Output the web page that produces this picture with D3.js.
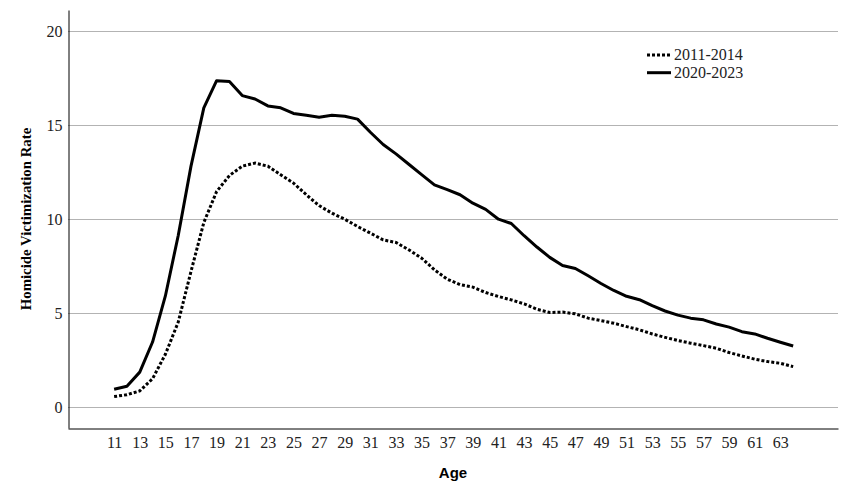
<!DOCTYPE html>
<html><head><meta charset="utf-8">
<script src="https://cdn.jsdelivr.net/npm/d3@7"></script>
<style>body{margin:0;background:#fff}svg{display:block}</style>
</head><body>
<svg id="chart" width="853" height="503"></svg>
<script>
const ages = d3.range(11, 65);
const series1Label = "2011-2014";
const series2Label = "2020-2023";
const rate2011 = [0.55,0.65,0.85,1.5,2.8,4.5,7.2,9.8,11.45,12.3,12.8,12.96,12.8,12.34,11.9,11.28,10.7,10.3,9.98,9.59,9.24,8.88,8.74,8.35,7.91,7.29,6.79,6.5,6.37,6.08,5.87,5.69,5.48,5.19,5.02,5.04,4.95,4.72,4.59,4.45,4.27,4.1,3.88,3.7,3.53,3.39,3.26,3.12,2.89,2.71,2.54,2.41,2.32,2.14];
const rate2020 = [0.94,1.1,1.85,3.45,5.9,9.1,12.8,15.9,17.34,17.3,16.55,16.37,16.0,15.9,15.6,15.5,15.4,15.5,15.45,15.3,14.6,13.95,13.45,12.9,12.35,11.8,11.55,11.28,10.83,10.5,9.98,9.75,9.1,8.5,7.95,7.52,7.36,6.97,6.56,6.19,5.88,5.7,5.38,5.1,4.88,4.72,4.63,4.41,4.24,4.0,3.88,3.65,3.44,3.24];
const yTicks = [0,5,10,15,20];
const xTickLabels = d3.range(11, 64, 2);

const svg = d3.select("#chart");
const mLeft = 68, mRight = 838, mTop = 10, mBottom = 428;
const serif = "Liberation Serif, Times New Roman, serif";

const x = d3.scaleLinear().domain([7.4, 67.5]).range([mLeft, mRight]);
const y = d3.scaleLinear().domain([-1.12, 21.1]).range([mBottom, mTop]);

// gridlines
svg.append("g").selectAll("line").data(yTicks).join("line")
  .attr("x1", mLeft).attr("x2", mRight)
  .attr("y1", d => Math.round(y(d)) + 0.5).attr("y2", d => Math.round(y(d)) + 0.5)
  .attr("stroke", "#b3b3b3").attr("stroke-width", 1);

// y axis
const yAxis = svg.append("g").attr("transform", `translate(${mLeft + 0.5},0)`)
  .call(d3.axisLeft(y).tickValues(yTicks).tickSize(0).tickPadding(6).tickSizeOuter(0));
yAxis.select(".domain").attr("stroke", "#000");
yAxis.selectAll("text").attr("font-family", serif).attr("font-size", 16).attr("fill", "#222").attr("dy", "0.36em");

// x axis
const xAxis = svg.append("g").attr("transform", `translate(0,${mBottom + 0.5})`)
  .call(d3.axisBottom(x).tickValues(xTickLabels).tickFormat(d3.format("d")).tickSize(0).tickPadding(8).tickSizeOuter(0));
xAxis.select(".domain").attr("stroke", "#000");
xAxis.selectAll("text").attr("font-family", serif).attr("font-size", 16).attr("fill", "#222");

// lines
const line = d3.line().x((d, i) => x(ages[i])).y(d => y(d));
svg.append("path").datum(rate2011).attr("d", line)
  .attr("fill", "none").attr("stroke", "#000").attr("stroke-width", 3)
  .attr("stroke-dasharray", "3,2");
svg.append("path").datum(rate2020).attr("d", line)
  .attr("fill", "none").attr("stroke", "#000").attr("stroke-width", 3)
  .attr("stroke-linejoin", "round");

// axis titles
svg.append("text").attr("transform", `translate(31,${(mTop + mBottom) / 2}) rotate(-90)`)
  .attr("text-anchor", "middle").attr("font-family", serif)
  .attr("font-weight", "bold").attr("font-size", 14.8).text("Homicide Victimization Rate");
svg.append("text").attr("x", (mLeft + mRight) / 2).attr("y", 478)
  .attr("text-anchor", "middle").attr("font-family", "Liberation Sans, Arial, sans-serif")
  .attr("font-weight", "bold").attr("font-size", 15).text("Age");

// legend
const legend = svg.append("g");
const legItems = [{label: series1Label, dash: "3,2"}, {label: series2Label, dash: null}];
legItems.forEach((it, i) => {
  const ly = 55 + i * 17.7;
  legend.append("line").attr("x1", 647).attr("x2", 671).attr("y1", ly).attr("y2", ly)
    .attr("stroke", "#000").attr("stroke-width", 3).attr("stroke-dasharray", it.dash);
  legend.append("text").attr("x", 674).attr("y", ly + 5)
    .attr("font-family", serif).attr("font-size", 16)
    .attr("fill", "#222").text(it.label);
});
</script>
</body></html>
